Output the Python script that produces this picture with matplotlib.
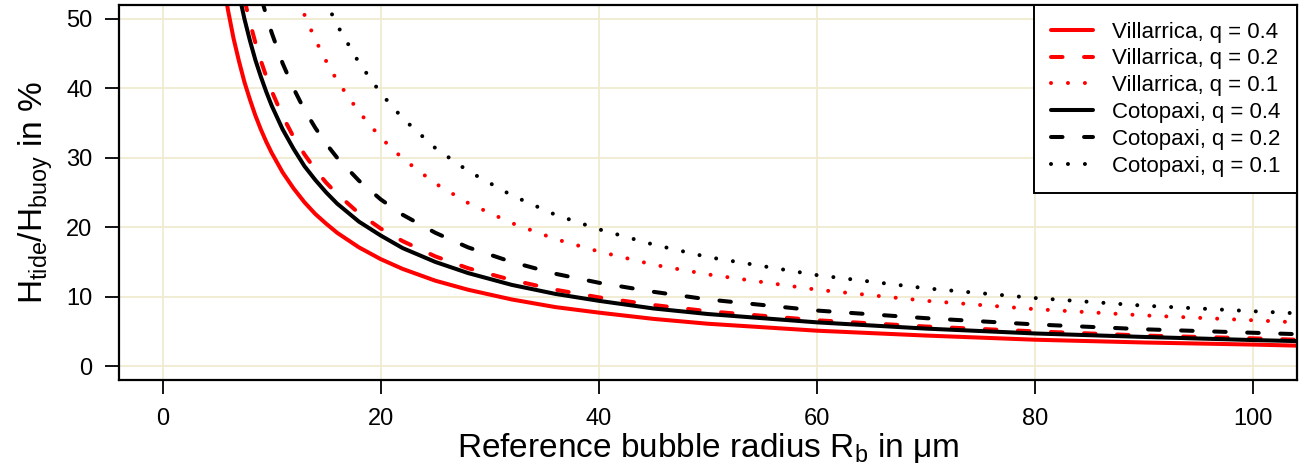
import numpy as np
import matplotlib
matplotlib.use('Agg')
import matplotlib.pyplot as plt

plt.rcParams['font.family'] = ['Liberation Sans', 'DejaVu Sans']
plt.rcParams['mathtext.fontset'] = 'custom'
plt.rcParams['mathtext.rm'] = 'Liberation Sans'
plt.rcParams['mathtext.it'] = 'Liberation Sans'
plt.rcParams['lines.scale_dashes'] = False

# reference bubble radius (um)
radius = [5, 5.5, 6, 6.5, 7, 7.5, 8, 8.5, 9, 9.5, 10, 11, 12, 13, 14, 15, 16, 18, 20,
          22, 25, 28, 32, 36, 40, 45, 50, 60, 70, 80, 90, 100, 104]

# H_tide / H_buoy in %
villarrica_04 = [61.4, 55.8, 51.2, 47.2, 43.9, 40.9, 38.4, 36.1, 34.1, 32.3, 30.7, 27.9,
                 25.6, 23.6, 21.9, 20.5, 19.2, 17.1, 15.4, 14.0, 12.3, 11.0, 9.6, 8.5,
                 7.7, 6.8, 6.1, 5.1, 4.4, 3.8, 3.4, 3.1, 2.95]
villarrica_02 = [79.2, 72.0, 66.0, 60.9, 56.6, 52.8, 49.5, 46.6, 44.0, 41.7, 39.6, 36.0,
                 33.0, 30.5, 28.3, 26.4, 24.8, 22.0, 19.8, 18.0, 15.8, 14.1, 12.4, 11.0,
                 9.9, 8.8, 7.9, 6.6, 5.7, 5.0, 4.4, 4.0, 3.8]
villarrica_01 = [131.6, 119.6, 109.7, 101.2, 94.0, 87.7, 82.3, 77.4, 73.1, 69.3, 65.8,
                 59.8, 54.8, 50.6, 47.0, 43.9, 41.1, 36.6, 32.9, 29.9, 26.3, 23.5, 20.6,
                 18.3, 16.5, 14.6, 13.2, 11.0, 9.4, 8.2, 7.3, 6.6, 6.3]
cotopaxi_04 = [75.0, 68.2, 62.5, 57.7, 53.6, 50.0, 46.9, 44.1, 41.7, 39.5, 37.5, 34.1,
               31.3, 28.8, 26.8, 25.0, 23.4, 20.8, 18.8, 17.0, 15.0, 13.4, 11.7, 10.4,
               9.4, 8.3, 7.5, 6.3, 5.4, 4.7, 4.2, 3.75, 3.6]
cotopaxi_02 = [96.0, 87.3, 80.0, 73.8, 68.6, 64.0, 60.0, 56.5, 53.3, 50.5, 48.0, 43.6,
               40.0, 36.9, 34.3, 32.0, 30.0, 26.7, 24.0, 21.8, 19.2, 17.1, 15.0, 13.3,
               12.0, 10.7, 9.6, 8.0, 6.9, 6.0, 5.3, 4.8, 4.6]
cotopaxi_01 = [157.2, 142.9, 131.0, 120.9, 112.3, 104.8, 98.3, 92.5, 87.3, 82.7, 78.6,
               71.5, 65.5, 60.5, 56.1, 52.4, 49.1, 43.7, 39.3, 35.7, 31.4, 28.1, 24.6,
               21.8, 19.7, 17.5, 15.7, 13.1, 11.2, 9.8, 8.7, 7.9, 7.6]

labels = ['Villarrica, q = 0.4', 'Villarrica, q = 0.2', 'Villarrica, q = 0.1',
          'Cotopaxi, q = 0.4', 'Cotopaxi, q = 0.2', 'Cotopaxi, q = 0.1']

fig = plt.figure(figsize=(13.04, 4.71), dpi=100)
ax = fig.add_axes([119 / 1304, 1 - 380 / 471, (1297 - 119) / 1304, (380 - 5) / 471])

grid_col = '#F0EAD0'
for gx in [0, 20, 40, 60, 80, 100]:
    ax.axvline(gx, color=grid_col, lw=1.3, zorder=0)
for gy in [0, 10, 20, 30, 40, 50]:
    ax.axhline(gy, color=grid_col, lw=1.3, zorder=0)

lw = 2.9
solid = '-'
dashed = (0, (8.3, 15.5))
dotted = (0, (0.01, 12.2))

series = [villarrica_04, villarrica_02, villarrica_01, cotopaxi_04, cotopaxi_02, cotopaxi_01]
colors = ['red', 'red', 'red', 'black', 'black', 'black']
styles = [solid, dashed, dotted, solid, dashed, dotted]
for vals, c, ls, lab in zip(series, colors, styles, labels):
    ax.plot(radius, vals, color=c, lw=lw, ls=ls, label=lab,
            dash_capstyle='round', solid_capstyle='round')

ax.set_xlim(-4, 104)
ax.set_ylim(-2, 52)
ax.set_xticks([0, 20, 40, 60, 80, 100])
ax.set_yticks([0, 10, 20, 30, 40, 50])
ax.tick_params(direction='out', length=10, width=1.3, labelsize=17, pad=9)
ax.tick_params(axis='x', pad=10)
for sp in ax.spines.values():
    sp.set_linewidth(1.6)

ax.set_xlabel(r'Reference bubble radius $\mathregular{R_b}$ in μm', fontsize=24, labelpad=1)
ax.set_ylabel(r'$\mathregular{H_{tide}/H_{buoy}}$ in %', fontsize=24, labelpad=8)

leg = ax.legend(loc='upper right', fontsize=16, frameon=True, fancybox=False,
                borderaxespad=0, handlelength=1.9, handletextpad=0.85,
                labelspacing=0.26, borderpad=0.75)
leg.get_frame().set_edgecolor('black')
leg.get_frame().set_linewidth(1.4)
leg.get_frame().set_alpha(1)

fig.savefig('out.png', dpi=100)
